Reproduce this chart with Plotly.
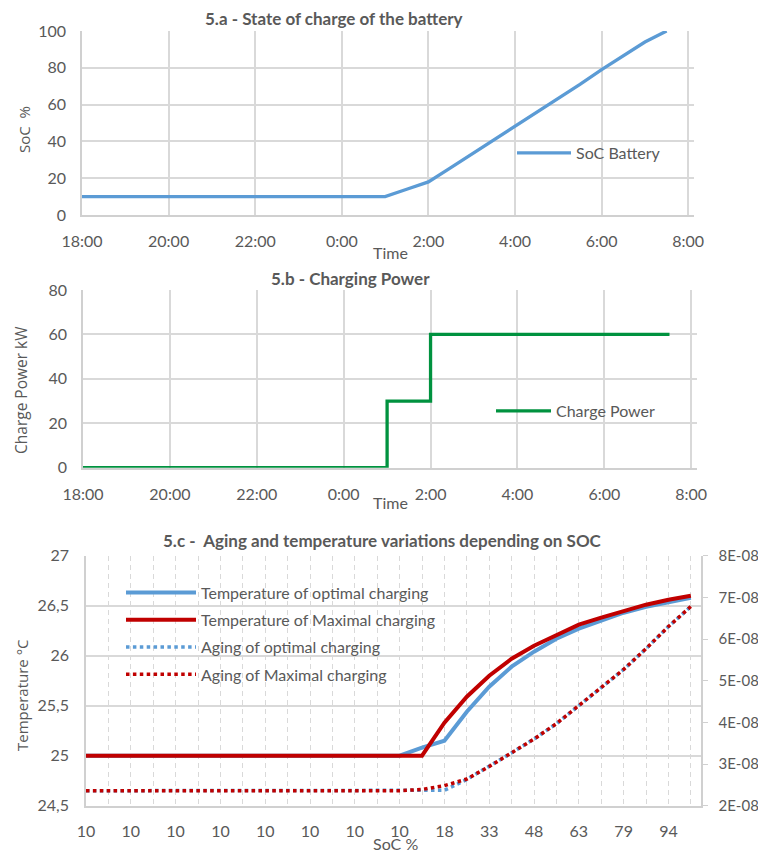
import plotly.graph_objects as go
from datetime import datetime, timedelta

# ---------------- data ----------------
time_labels = ["18:00", "18:30", "19:00", "19:30", "20:00", "20:30", "21:00", "21:30",
               "22:00", "22:30", "23:00", "23:30", "0:00", "0:30", "1:00", "1:30",
               "2:00", "2:30", "3:00", "3:30", "4:00", "4:30", "5:00", "5:30",
               "6:00", "6:30", "7:00", "7:30"]
soc_battery = [10, 10, 10, 10, 10, 10, 10, 10, 10, 10, 10, 10, 10, 10, 10, 14,
               18, 25.5, 33, 40.5, 48, 55.5, 63, 71, 79, 86.5, 94, 100]
charge_power = [0, 0, 0, 0, 0, 0, 0, 0, 0, 0, 0, 0, 0, 0, 30, 30,
                60, 60, 60, 60, 60, 60, 60, 60, 60, 60, 60, 60]
temp_optimal = [25, 25, 25, 25, 25, 25, 25, 25, 25, 25, 25, 25, 25, 25, 25, 25.08,
                25.15, 25.44, 25.69, 25.89, 26.04, 26.17, 26.27, 26.35, 26.43, 26.49, 26.54, 26.58]
temp_maximal = [25, 25, 25, 25, 25, 25, 25, 25, 25, 25, 25, 25, 25, 25, 25, 25,
                25.33, 25.59, 25.80, 25.97, 26.10, 26.21, 26.31, 26.38, 26.45, 26.51, 26.56, 26.60]
aging_optimal = [2.36e-8, 2.36e-8, 2.36e-8, 2.36e-8, 2.36e-8, 2.36e-8, 2.36e-8, 2.36e-8,
                 2.36e-8, 2.36e-8, 2.36e-8, 2.36e-8, 2.36e-8, 2.36e-8, 2.36e-8, 2.36e-8,
                 2.37e-8, 2.63e-8, 2.94e-8, 3.27e-8, 3.60e-8, 3.97e-8, 4.40e-8, 4.83e-8,
                 5.27e-8, 5.77e-8, 6.30e-8, 6.78e-8]
aging_maximal = [2.36e-8, 2.36e-8, 2.36e-8, 2.36e-8, 2.36e-8, 2.36e-8, 2.36e-8, 2.36e-8,
                 2.36e-8, 2.36e-8, 2.36e-8, 2.36e-8, 2.36e-8, 2.36e-8, 2.36e-8, 2.39e-8,
                 2.48e-8, 2.64e-8, 2.94e-8, 3.27e-8, 3.60e-8, 3.97e-8, 4.40e-8, 4.83e-8,
                 5.27e-8, 5.77e-8, 6.30e-8, 6.78e-8]
temp_ticks = [24.5, 25, 25.5, 26, 26.5, 27]
temp_ticktext = ["24,5", "25", "25,5", "26", "26,5", "27"]
aging_ticks = [2e-8, 3e-8, 4e-8, 5e-8, 6e-8, 7e-8, 8e-8]
aging_ticktext = ["2E-08", "3E-08", "4E-08", "5E-08", "6E-08", "7E-08", "8E-08"]

# ---------------- helpers ----------------
def to_dt(lbl):
    h, m = map(int, lbl.split(":"))
    day = 1 if h >= 12 else 2
    return datetime(2024, 1, day, h, m)

times = [to_dt(t) for t in time_labels]
idx = list(range(len(soc_battery)))

OFF = 8  # page body margin
W, H = 766 - OFF, 852 - OFF
def px(x):
    return (x - OFF) / W
def py(y):
    return 1 - (y - OFF) / H

FONT = "Lato, 'Open Sans', sans-serif"
TXT = "#595959"
GRID = "#D9D9D9"
AXL = "#D0D0D0"
BLUE = "#5B9BD5"
GREEN = "#00923F"
RED = "#C00000"

fig = go.Figure()

# ---- 5.a ----
fig.add_trace(go.Scatter(x=times, y=soc_battery, mode="lines", name="SoC Battery",
                         line=dict(color=BLUE, width=3.3), xaxis="x", yaxis="y",
                         legend="legend"))
# ---- 5.b ----
fig.add_trace(go.Scatter(x=times, y=charge_power, mode="lines", name="Charge Power",
                         line=dict(color=GREEN, width=3.3, shape="hv"), xaxis="x2", yaxis="y2",
                         legend="legend2"))
# ---- 5.c ----
fig.add_trace(go.Scatter(x=idx, y=temp_optimal, mode="lines", name="Temperature of optimal charging",
                         line=dict(color=BLUE, width=4), xaxis="x3", yaxis="y3",
                         legend="legend3", legendgroup="a"))
fig.add_trace(go.Scatter(x=idx, y=temp_maximal, mode="lines", name="Temperature of Maximal charging",
                         line=dict(color=RED, width=4), xaxis="x3", yaxis="y3",
                         legend="legend3", legendgroup="b"))
fig.add_trace(go.Scatter(x=idx, y=aging_optimal, mode="lines", name="Aging of optimal charging",
                         line=dict(color=BLUE, width=3.5, dash="3.5px,3.4px"), xaxis="x3", yaxis="y4",
                         legend="legend3", legendgroup="c"))
fig.add_trace(go.Scatter(x=idx, y=aging_maximal, mode="lines", name="Aging of Maximal charging",
                         line=dict(color=RED, width=3.5, dash="3.5px,3.4px"), xaxis="x3", yaxis="y4",
                         legend="legend3", legendgroup="d"))

tick_font = dict(family=FONT, size=16, color=TXT)

def time_axis(left, right, end_minutes, anchor):
    return dict(type="date", domain=[px(left), px(right)], anchor=anchor,
                range=[datetime(2024, 1, 1, 18, 0),
                       datetime(2024, 1, 2, 8, 0) + timedelta(minutes=end_minutes)],
                tick0=datetime(2024, 1, 1, 18, 0), dtick=2 * 3600 * 1000,
                tickformat="%-H:%M", showgrid=True, gridcolor=GRID, gridwidth=1.6,
                showline=True, linecolor=AXL, linewidth=1.6, zeroline=False, automargin=False,
                ticks="", ticklabelstandoff=11, tickfont=tick_font, fixedrange=True)

ctick = []
for i in idx:
    ctick.append(str(round(soc_battery[i])) if i % 2 == 0 else "")

fig.update_layout(
    template="none",
    width=W, height=H, margin=dict(l=0, r=0, t=0, b=0, autoexpand=False),
    paper_bgcolor="white", plot_bgcolor="white",
    font=dict(family=FONT, color=TXT),
    xaxis=time_axis(82, 694, 8, "y"),
    yaxis=dict(domain=[py(215), py(31)], anchor="x", range=[0, 100], dtick=20,
               showgrid=True, gridcolor=GRID, gridwidth=1.6, showline=True, linecolor=AXL,
               linewidth=1.6, zeroline=False, automargin=False, ticks="",
               ticklabelstandoff=11, tickfont=tick_font),
    xaxis2=time_axis(83, 697, 8, "y2"),
    yaxis2=dict(domain=[py(467.7), py(290)], anchor="x2", range=[0, 80], dtick=20,
                showgrid=True, gridcolor=GRID, gridwidth=1.6, showline=True, linecolor=AXL,
                linewidth=1.6, zeroline=False, automargin=False, ticks="",
                ticklabelstandoff=11, tickfont=tick_font),
    xaxis3=dict(domain=[px(86), px(700.7)], anchor="y3", range=[0, 27.44],
                tickmode="array", tickvals=idx, ticktext=ctick,
                showgrid=True, gridcolor=GRID, gridwidth=1.3, griddash="5px,4px",
                showline=True, linecolor=AXL, linewidth=1.6, zeroline=False, automargin=False,
                ticks="", ticklabelstandoff=10, tickfont=tick_font),
    yaxis3=dict(domain=[py(805.7), py(555.7)], anchor="x3", range=[24.5, 27],
                tickmode="array", tickvals=temp_ticks, ticktext=temp_ticktext,
                showgrid=True, gridcolor=GRID, gridwidth=1.6, showline=True, linecolor=AXL,
                linewidth=1.6, zeroline=False, automargin=False, ticks="",
                ticklabelstandoff=12, tickfont=tick_font),
    yaxis4=dict(overlaying="y3", side="right", anchor="x3", range=[2e-8, 8e-8],
                tickmode="array", tickvals=aging_ticks, ticktext=aging_ticktext,
                showgrid=False, showline=True, linecolor=AXL, linewidth=1.6, zeroline=False,
                automargin=False, ticks="outside", ticklen=5, tickcolor=AXL, tickwidth=1.3,
                ticklabelstandoff=8, tickfont=dict(family=FONT, size=15, color=TXT)),
    legend=dict(x=px(512), y=py(153), xanchor="left", yanchor="middle", bgcolor="rgba(0,0,0,0)",
                borderwidth=0, font=dict(family=FONT, size=16, color=TXT), itemwidth=54),
    legend2=dict(x=px(491), y=py(411), xanchor="left", yanchor="middle", bgcolor="rgba(0,0,0,0)",
                 borderwidth=0, font=dict(family=FONT, size=16, color=TXT), itemwidth=55),
    legend3=dict(x=px(121), y=py(633.5), xanchor="left", yanchor="middle", bgcolor="rgba(0,0,0,0)",
                 borderwidth=0, font=dict(family=FONT, size=16, color=TXT), itemwidth=70,
                 traceorder="grouped", tracegroupgap=3.5),
    showlegend=True,
)

title_font = dict(family=FONT, size=17, color=TXT)
ann = [
    dict(text="<b>5.a - State of charge of the battery</b>", x=px(334), y=py(18.5), font=title_font),
    dict(text="<b>5.b - Charging Power</b>", x=px(350), y=py(279), font=title_font),
    dict(text="<b>5.c -  Aging and temperature variations depending on SOC</b>", x=px(382), y=py(540), font=title_font),
    dict(text="Time", x=px(390), y=py(252), font=dict(family=FONT, size=16, color=TXT)),
    dict(text="Time", x=px(390), y=py(502), font=dict(family=FONT, size=16, color=TXT)),
    dict(text="SoC %", x=px(395), y=py(843), font=dict(family=FONT, size=16, color=TXT)),
    dict(text="SoC  %", x=px(24), y=py(130), textangle=-90, font=dict(family="Open Sans", size=15, color=TXT)),
    dict(text="Charge Power kW", x=px(21), y=py(390), textangle=-90, font=dict(family="Open Sans", size=15.5, color=TXT)),
    dict(text="Temperature °C", x=px(22), y=py(695), textangle=-90, font=dict(family="Open Sans", size=15, color=TXT)),
]
for a in ann:
    a.update(xref="paper", yref="paper", showarrow=False, xanchor="center", yanchor="middle")
fig.update_layout(annotations=ann)

fig.write_html("out.html")
